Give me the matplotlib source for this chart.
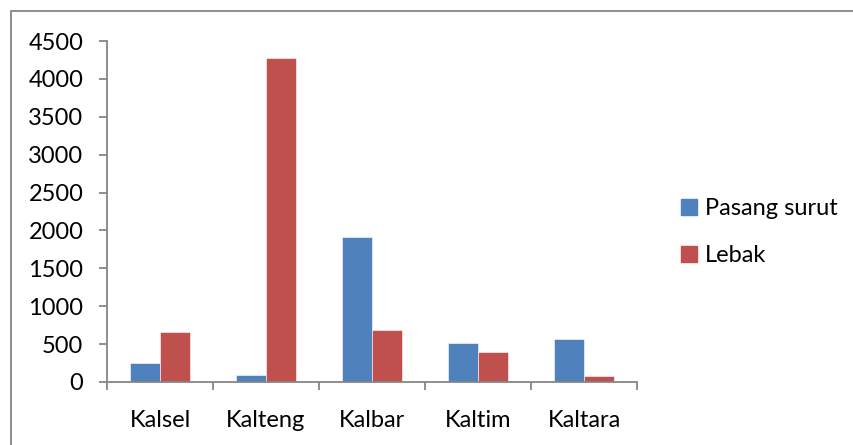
import matplotlib.pyplot as plt
import numpy as np
from matplotlib.patches import Rectangle, Patch

# 各省面积（公顷）
provinsi = ["Kalsel", "Kalteng", "Kalbar", "Kaltim", "Kaltara"]
pasang_surut = [250, 95, 1920, 510, 565]
lebak = [660, 4270, 680, 400, 80]
y_ticks = [0, 500, 1000, 1500, 2000, 2500, 3000, 3500, 4000, 4500]

biru = "#4F81BD"
merah = "#C0504D"
abu = "#868686"


def main():
    plt.rcParams['font.family'] = ['Lato', 'DejaVu Sans']
    size = 17

    fig = plt.figure(figsize=(8.54, 4.45), dpi=100)
    ax = fig.add_axes([107 / 854, 1 - 382 / 445, 530 / 854, 341 / 445])

    x = np.arange(len(provinsi))
    w = 0.286
    ax.bar(x - w / 2, pasang_surut, w, color=biru, edgecolor="white", linewidth=0.4)
    ax.bar(x + w / 2, lebak, w, color=merah, edgecolor="white", linewidth=0.4)

    ax.set_xlim(-0.5, len(provinsi) - 0.5)
    ax.set_ylim(0, 4500)
    ax.set_yticks(y_ticks)
    ax.set_xticks(np.arange(len(provinsi) + 1) - 0.5)
    ax.set_xticklabels([])
    ax.set_xticks(x, minor=True)
    ax.set_xticklabels(provinsi, minor=True, fontsize=size)
    ax.tick_params(axis='x', which='minor', length=0, pad=20)
    ax.tick_params(axis='x', which='major', length=6, width=1.3, color=abu, direction='out')
    ax.tick_params(axis='y', length=6, width=1.3, color=abu, direction='out', labelsize=size, pad=11)

    for s in ["top", "right"]:
        ax.spines[s].set_visible(False)
    for s in ["left", "bottom"]:
        ax.spines[s].set_color(abu)
        ax.spines[s].set_linewidth(1.3)

    handles = [Patch(color=biru, label="Pasang surut"), Patch(color=merah, label="Lebak")]
    fig.legend(handles=handles, loc="upper left", bbox_to_anchor=(672 / 854, 1 - 189 / 445),
               frameon=False, fontsize=size, handlelength=0.65, handleheight=0.65,
               handletextpad=0.35, labelspacing=1.1, borderaxespad=0)

    # 图表外框
    fig.patches.append(Rectangle((11 / 854, -0.01), 1.0, 1 - 11 / 445 + 0.01,
                                 transform=fig.transFigure, fill=False,
                                 edgecolor=abu, linewidth=1.3))

    plt.savefig("out.png", dpi=100)


if __name__ == '__main__':
    main()
